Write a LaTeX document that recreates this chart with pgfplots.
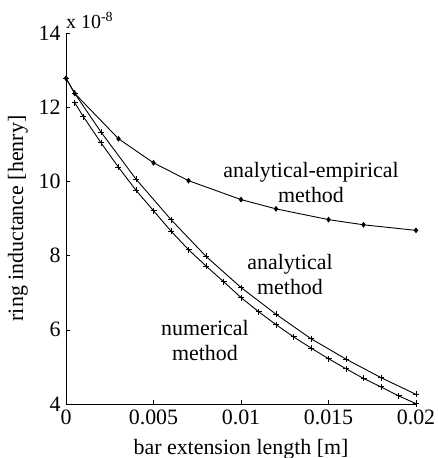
\documentclass[border=0pt]{standalone}
\usepackage{fontspec}
\setmainfont{Liberation Serif}
\usepackage{pgfplots}
\pgfplotsset{compat=1.18}
\begin{document}
\fontsize{22}{26}\selectfont
\begin{tikzpicture}
\begin{axis}[
  name=ax,
  scale only axis, width=350bp, height=371bp,
  xmin=0, xmax=0.02, ymin=4, ymax=14,
  axis lines=left, axis line style={-, line width=0.8pt},
  tick align=inside, major tick length=4bp,
  tick style={black, line width=0.6pt},
  scaled x ticks=false, scaled y ticks=false,
  xtick={0,0.005,0.01,0.015,0.02},
  xticklabels={0,0.005,0.01,0.015,0.02},
  ytick={4,6,8,10,12,14},
  yticklabels={4,6,8,10,12,14},
  xticklabel style={yshift=2bp},
  yticklabel style={xshift=2bp},
  xlabel={bar extension length [m]},
  ylabel={ring inductance [henry]},
  xlabel style={yshift=0bp},
  ylabel style={yshift=-4bp},
  clip=false,
]
% analytical-empirical method
\addplot[black, line width=0.9pt, mark=diamond*, mark size=2.2bp] coordinates {
  (0,12.78) (0.0005,12.37) (0.003,11.15) (0.005,10.50) (0.007,10.02)
  (0.010,9.51) (0.012,9.26) (0.015,8.97) (0.017,8.83) (0.020,8.68)
};
% analytical method
\addplot[black, line width=0.9pt, mark=+, mark size=3bp] coordinates {
  (0,12.78) (0.0005,12.37) (0.002,11.33) (0.004,10.06) (0.006,8.97)
  (0.008,7.98) (0.010,7.14) (0.012,6.42) (0.014,5.76) (0.016,5.21)
  (0.018,4.71) (0.020,4.26)
};
% numerical method
\addplot[black, line width=0.9pt, mark=+, mark size=3bp] coordinates {
  (0.0005,12.12) (0.001,11.74) (0.002,11.04) (0.003,10.38) (0.004,9.76)
  (0.005,9.21) (0.006,8.66) (0.007,8.16) (0.008,7.72) (0.009,7.30)
  (0.010,6.87) (0.011,6.49) (0.012,6.14) (0.013,5.81) (0.014,5.51)
  (0.015,5.22) (0.016,4.95) (0.017,4.69) (0.018,4.46) (0.019,4.22)
  (0.020,4.01)
};
\node[align=center, font=\fontsize{22}{25}\selectfont] at (axis cs:0.0140,9.97) {analytical-empirical\\method};
\node[align=center, font=\fontsize{22}{25}\selectfont] at (axis cs:0.0128,7.49) {analytical\\method};
\node[align=center, font=\fontsize{22}{25}\selectfont] at (axis cs:0.00794,5.71) {numerical\\method};
\node[anchor=base west, inner sep=0pt, font=\fontsize{20}{22}\selectfont] at (rel axis cs:0,1) [yshift=4bp] {x 10\textsuperscript{-8}};
\end{axis}
\pgfresetboundingbox
\path[use as bounding box] (ax.south west) ++(-66bp,-54bp) rectangle ++(438bp,458bp);
\end{tikzpicture}
\end{document}
